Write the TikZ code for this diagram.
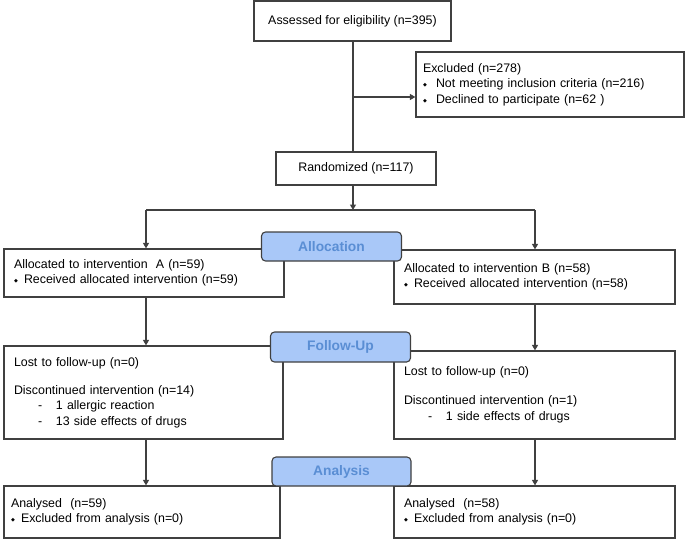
\documentclass[tikz,border=0pt]{standalone}
\usepackage{fontspec}
\setmainfont{Liberation Sans}
\newfontfamily\dejavu{DejaVu Sans}
\usetikzlibrary{arrows.meta}
\definecolor{lncol}{HTML}{404040}
\definecolor{stagefill}{HTML}{A9C8F8}
\definecolor{stagetext}{HTML}{5A8ED4}
\newcommand{\dmd}[1]{\makebox[#1][l]{\raisebox{1pt}{\dejavu\fontsize{5}{5}\selectfont ◆}}}
\newcommand{\dsh}{\hspace*{24pt}\makebox[18pt][l]{-}}
\tikzset{
  txt/.style={font=\fontsize{12.4}{15.5}\selectfont},
  box/.style={draw=lncol, line width=1.2pt, fill=white, txt, inner sep=0pt, minimum width=#1},
  lbox/.style={box=#1, align=left, text width=#1-20pt},
  stage/.style={draw=lncol, line width=1.1pt, fill=stagefill, rounded corners=4pt,
    text=stagetext, font=\bfseries\fontsize{13.8}{16}\selectfont, minimum width=140pt, minimum height=29pt, inner sep=0pt},
  conn/.style={draw=lncol, line width=1.2pt},
  arr/.style={conn, -{Triangle[length=5.5pt,width=6pt]}}
}
\begin{document}
\begin{tikzpicture}[x=1pt,y=-1pt]
\useasboundingbox (0,0) rectangle (685,541);
% boxes
\node[box=197pt, minimum height=40pt] (assess) at (352.5,21) {Assessed for eligibility (n=395)};
\node[lbox=268pt, minimum height=65pt, text width=254pt] (excl) at (550,84.5)
  {Excluded (n=278)\\\dmd{13pt}Not meeting inclusion criteria (n=216)\\\dmd{13pt}Declined to participate (n=62 )};
\node[box=160pt, minimum height=33pt] (rand) at (356,168.5) {Randomized (n=117)};
\node[lbox=280pt, minimum height=48pt] (allocA) at (144,273)
  {Allocated to intervention\ \ A (n=59)\\\dmd{10pt}Received allocated intervention (n=59)};
\node[lbox=281pt, minimum height=54pt] (allocB) at (534.5,277)
  {Allocated to intervention B (n=58)\\\dmd{10pt}Received allocated intervention (n=58)};
\node[lbox=279pt, minimum height=93pt] (lostA) at (143.5,392.5)
  {Lost to follow-up (n=0)\\[12.5pt]Discontinued intervention (n=14)\\\dsh 1 allergic reaction\\\dsh 13 side effects of drugs};
\node[lbox=281pt, minimum height=88pt] (lostB) at (534.5,395)
  {Lost to follow-up (n=0)\\[13.5pt]Discontinued intervention (n=1)\\\dsh 1 side effects of drugs};
\node[lbox=276pt, minimum height=52pt, text width=262pt] (anaA) at (142,512)
  {Analysed\ \ (n=59)\\\dmd{10pt}Excluded from analysis (n=0)};
\node[lbox=281pt, minimum height=52pt] (anaB) at (534.5,512)
  {Analysed\ \ (n=58)\\\dmd{10pt}Excluded from analysis (n=0)};
% stage labels
\node[stage] (stAlloc) at (331.5,246.5) {Allocation};
\node[stage, minimum height=30pt] (stFollow) at (340.5,347) {Follow-Up};
\node[stage, minimum width=139pt] (stAna) at (341.5,471.5) {Analysis};
% connectors
\coordinate (top) at (353,41);
\coordinate (j1) at (353,97);
\coordinate (rb) at (353,152);
\coordinate (r1) at (353,185);
\coordinate (split) at (353,210);
\coordinate (sL) at (146,210);
\coordinate (sR) at (535,210);
\draw[conn] (top) -- (rb);
\draw[arr] (j1) -- (j1 -| excl.west);
\draw[arr] (r1) -- (split);
\draw[conn] (sL) -- (sR);
\draw[arr] (sL) -- (sL |- allocA.north);
\draw[arr] (sR) -- (sR |- allocB.north);
\coordinate (aA) at (146,297);
\coordinate (aB) at (535,304);
\draw[arr] (aA) -- (aA |- lostA.north);
\draw[arr] (aB) -- (aB |- lostB.north);
\coordinate (lA) at (146,439);
\coordinate (lB) at (535,439);
\draw[arr] (lA) -- (lA |- anaA.north);
\draw[arr] (lB) -- (lB |- anaB.north);
\end{tikzpicture}
\end{document}
